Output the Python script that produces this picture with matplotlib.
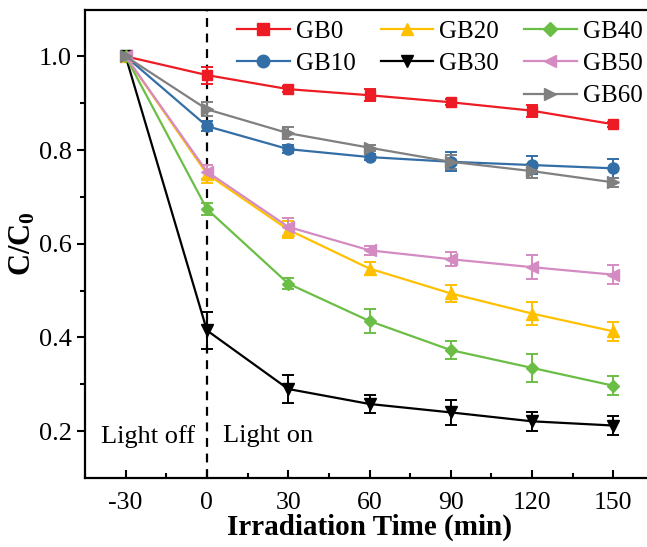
import matplotlib
matplotlib.use("Agg")
import matplotlib.pyplot as plt
from matplotlib.lines import Line2D

plt.rcParams['font.family'] = ['Liberation Serif', 'DejaVu Serif']
plt.rcParams['mathtext.fontset'] = 'custom'
plt.rcParams['mathtext.rm'] = 'Liberation Serif'
plt.rcParams['mathtext.bf'] = 'Liberation Serif:bold'

time = [-30, 0, 30, 60, 90, 120, 150]
xticks = [-30, 0, 30, 60, 90, 120, 150]
yticks = [0.2, 0.4, 0.6, 0.8, 1.0]

names = ['GB0', 'GB10', 'GB20', 'GB30', 'GB40', 'GB50', 'GB60']
gb0 = [1.0, 0.960, 0.930, 0.917, 0.902, 0.884, 0.855]
gb10 = [1.0, 0.851, 0.802, 0.785, 0.775, 0.768, 0.761]
gb20 = [1.0, 0.749, 0.630, 0.547, 0.494, 0.451, 0.413]
gb30 = [1.0, 0.415, 0.290, 0.258, 0.240, 0.221, 0.212]
gb40 = [1.0, 0.674, 0.515, 0.435, 0.373, 0.335, 0.297]
gb50 = [1.0, 0.754, 0.636, 0.586, 0.567, 0.550, 0.534]
gb60 = [1.0, 0.887, 0.836, 0.805, 0.775, 0.755, 0.731]

err0 = [0.004, 0.018, 0.007, 0.013, 0.006, 0.013, 0.005]
err10 = [0.004, 0.010, 0.008, 0.006, 0.020, 0.019, 0.020]
err20 = [0.004, 0.020, 0.018, 0.014, 0.019, 0.024, 0.020]
err30 = [0.004, 0.040, 0.030, 0.020, 0.026, 0.020, 0.020]
err40 = [0.004, 0.013, 0.012, 0.025, 0.020, 0.030, 0.020]
err50 = [0.004, 0.015, 0.020, 0.010, 0.015, 0.025, 0.020]
err60 = [0.004, 0.015, 0.013, 0.006, 0.015, 0.015, 0.010]

series = [gb0, gb10, gb20, gb30, gb40, gb50, gb60]
errors = [err0, err10, err20, err30, err40, err50, err60]
colors = ['#ED1C24', '#336EA6', '#FFC000', '#000000', '#6BBE45', '#D38BC2', '#808080']
markers = ['s', 'o', '^', 'v', 'D', '<', '>']
msizes = [7, 8, 8, 8, 6.5, 8, 8]

fig = plt.figure(figsize=(6.47, 5.47), dpi=100)
ax = fig.add_axes([85/647, (547-478)/547, (654-85)/647, (478-9.5)/547])

handles = {}
for name, y, e, c, m, ms in zip(names, series, errors, colors, markers, msizes):
    ax.errorbar(time, y, yerr=e, color=c, marker=m, markersize=ms, linewidth=1.6,
                elinewidth=1.4, capsize=4, capthick=1.4)
    handles[name] = Line2D([], [], color=c, marker=m, markersize=ms + 1, linewidth=1.6)

ax.axvline(0, color='black', linestyle=(0, (4, 3)), linewidth=1.6, zorder=0)

ax.set_xlim(-45, 165)
ax.set_ylim(0.1, 1.1)
ax.set_xticks(xticks)
ax.set_xticklabels([str(t) for t in xticks])
ax.set_xticks([-45, -15, 15, 45, 75, 105, 135, 165], minor=True)
ax.set_yticks(yticks)
ax.set_yticklabels(['%.1f' % v for v in yticks])
ax.set_yticks([0.3, 0.5, 0.7, 0.9], minor=True)

ax.tick_params(axis='x', which='major', direction='in', length=6, width=1.5, labelsize=18.5, pad=10)
ax.tick_params(axis='x', which='minor', direction='in', length=3.5, width=1.5)
ax.tick_params(axis='y', which='major', direction='out', length=6, width=1.5, labelsize=19)
ax.tick_params(axis='y', which='minor', direction='out', length=3.5, width=1.5)
for s in ax.spines.values():
    s.set_linewidth(1.6)

ax.set_xlabel('Irradiation Time (min)', fontsize=21, fontweight='bold', labelpad=0)
ax.set_ylabel(r'$\mathbf{C/C_0}$', fontsize=22, labelpad=1)

ax.text(-21.7, 0.189, 'Light off', fontsize=19, ha='center', va='center')
ax.text(5.9, 0.189, 'Light on', fontsize=19, ha='left', va='center')

blank = Line2D([], [], linestyle='none', marker=None)
order = [handles['GB0'], handles['GB10'], blank,
         handles['GB20'], handles['GB30'], blank,
         handles['GB40'], handles['GB50'], handles['GB60']]
labels = ['GB0', 'GB10', '', 'GB20', 'GB30', '', 'GB40', 'GB50', 'GB60']
leg = fig.legend(order, labels, ncol=3, loc='upper left',
                 bbox_to_anchor=(237/647, (547-20)/547),
                 frameon=False, fontsize=18, handlelength=2.1, handletextpad=0.25,
                 columnspacing=1.0, labelspacing=0.4, borderpad=0, borderaxespad=0)

fig.savefig('out.png', dpi=100)
